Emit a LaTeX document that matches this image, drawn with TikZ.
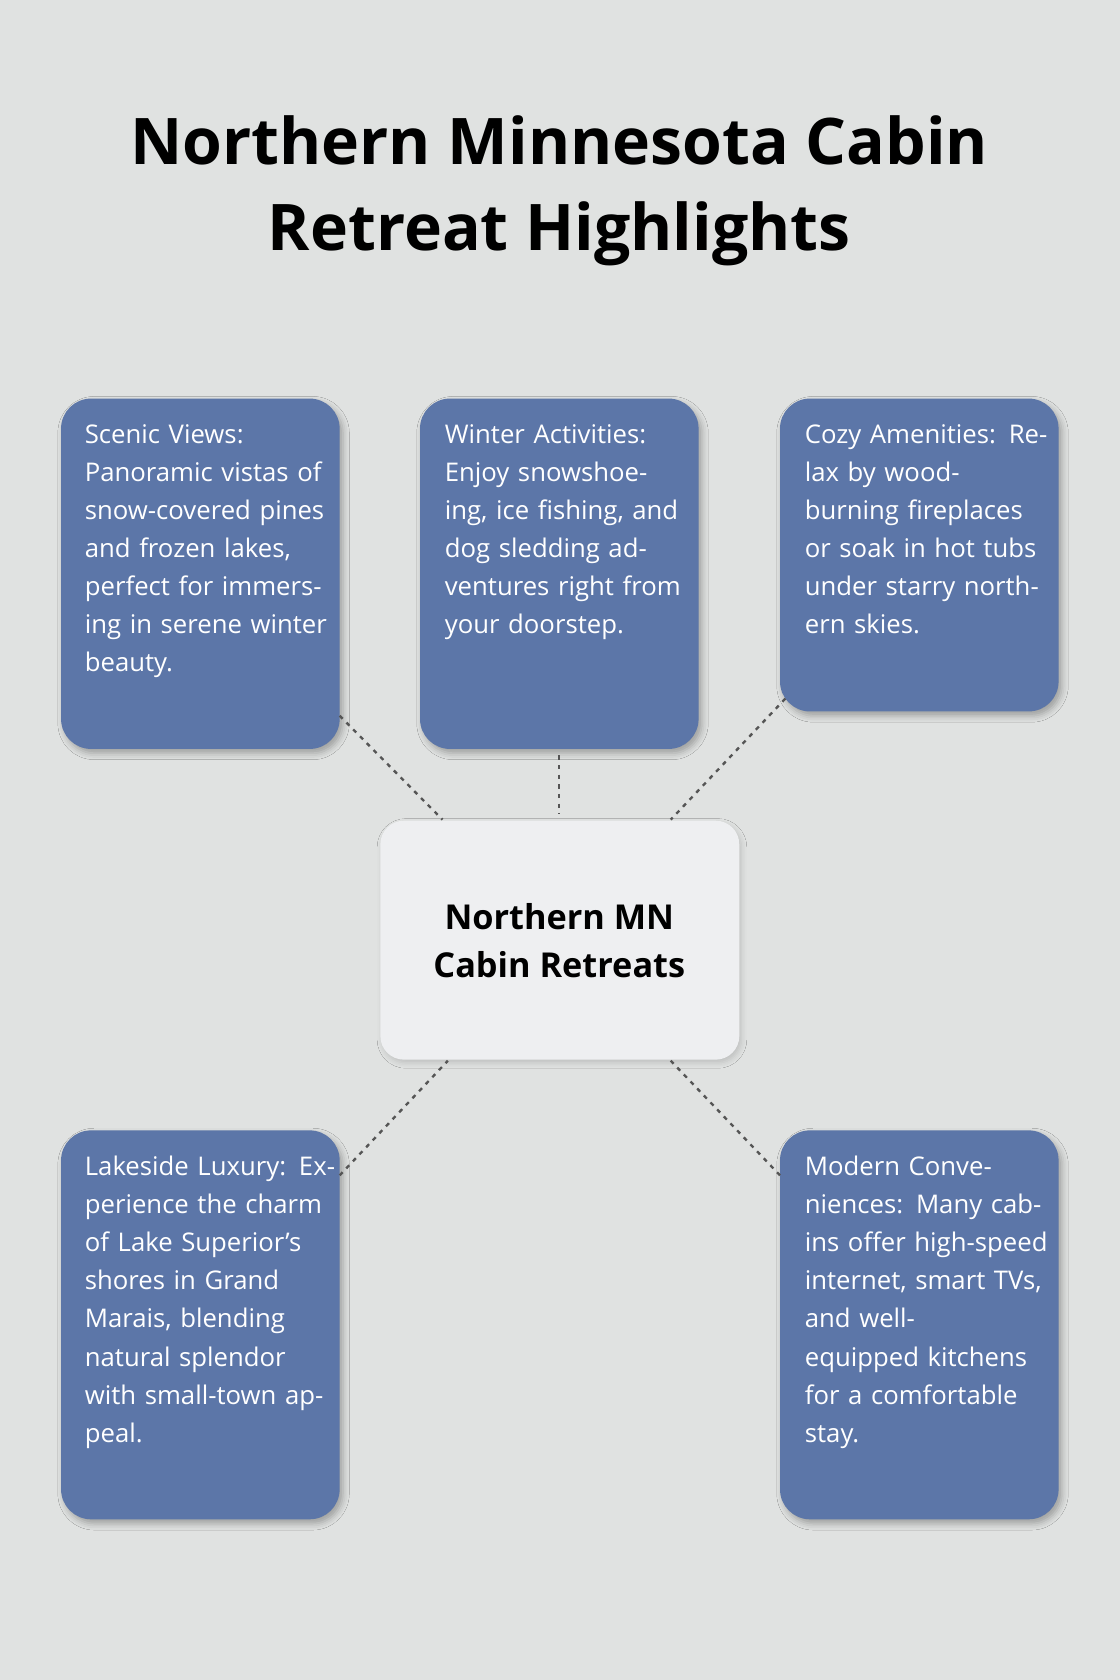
\documentclass[tikz,border=0pt]{standalone}
\usepackage{fontspec}
\setmainfont{Open Sans}
\usetikzlibrary{shadows.blur}
\definecolor{bg}{HTML}{E0E2E1}
\definecolor{boxc}{HTML}{5C76A8}
\definecolor{cen}{HTML}{EEEFF1}
\definecolor{lnc}{HTML}{555555}
\tikzset{
 card/.style={fill=boxc,rounded corners=28pt,blur shadow={shadow xshift=3pt,shadow yshift=-4pt,shadow blur radius=6pt,shadow opacity=30}},
 cardtxt/.style={anchor=north west,text width=235pt,align=left,inner sep=0pt,text=white,font=\fontsize{24}{35.5}\selectfont},
 conn/.style={draw=lnc,line width=2.2pt,dash pattern=on 4pt off 5pt}
}
\begin{document}
\begin{tikzpicture}[x=1pt,y=-1pt]
\fill[bg] (0,0) rectangle (1045,1568);
\useasboundingbox (0,0) rectangle (1045,1568);
\node[font=\bfseries\fontsize{60}{80}\selectfont,align=center] (title) at (522,178) {Northern Minnesota Cabin\\Retreat Highlights};
% cards
\path[card] (57,372) rectangle (317,699);
\path[card] (392,372) rectangle (652,699);
\path[card] (728,372) rectangle (988,664);
\path[card] (57,1055) rectangle (317,1418);
\path[card] (728,1055) rectangle (988,1418);
\path[fill=cen,rounded corners=22pt,blur shadow={shadow xshift=2pt,shadow yshift=-3pt,shadow blur radius=5pt,shadow opacity=15}] (355,766) rectangle (690,989);
\node[cardtxt] (t1) at (79,396) {Scenic Views: Panoramic vistas of snow-covered pines and frozen lakes, perfect for immersing in serene winter beauty.};
\node[cardtxt] (t2) at (415,396) {Winter Activities: Enjoy snowshoeing, ice fishing, and dog sledding adventures right from your doorstep.};
\node[cardtxt] (t3) at (751,396) {Cozy Amenities: Relax by wood-\\burning fireplaces or soak in hot tubs under starry northern skies.};
\node[cardtxt] (t4) at (79,1079) {Lakeside Luxury: Experience the charm of Lake Superior's shores in Grand Marais, blending natural splendor with small-town appeal.};
\node[cardtxt] (t5) at (751,1079) {Modern Conveniences: Many cabins offer high-speed internet, smart TVs, and well-\\equipped kitchens for a comfortable stay.};
\node[font=\bfseries\fontsize{32}{45}\selectfont,align=center] (c) at (522,878) {Northern MN\\Cabin Retreats};
\coordinate (a1) at (317,668); \coordinate (b1) at (413,765);
\coordinate (a2) at (522,705); \coordinate (b2) at (522,760);
\coordinate (a3) at (733,652); \coordinate (b3) at (626,765);
\coordinate (a4) at (317,1097); \coordinate (b4) at (418,990);
\coordinate (a5) at (728,1097); \coordinate (b5) at (626,990);
\draw[conn] (a1)--(b1); \draw[conn] (a2)--(b2); \draw[conn] (a3)--(b3);
\draw[conn] (a4)--(b4); \draw[conn] (a5)--(b5);
\end{tikzpicture}
\end{document}
